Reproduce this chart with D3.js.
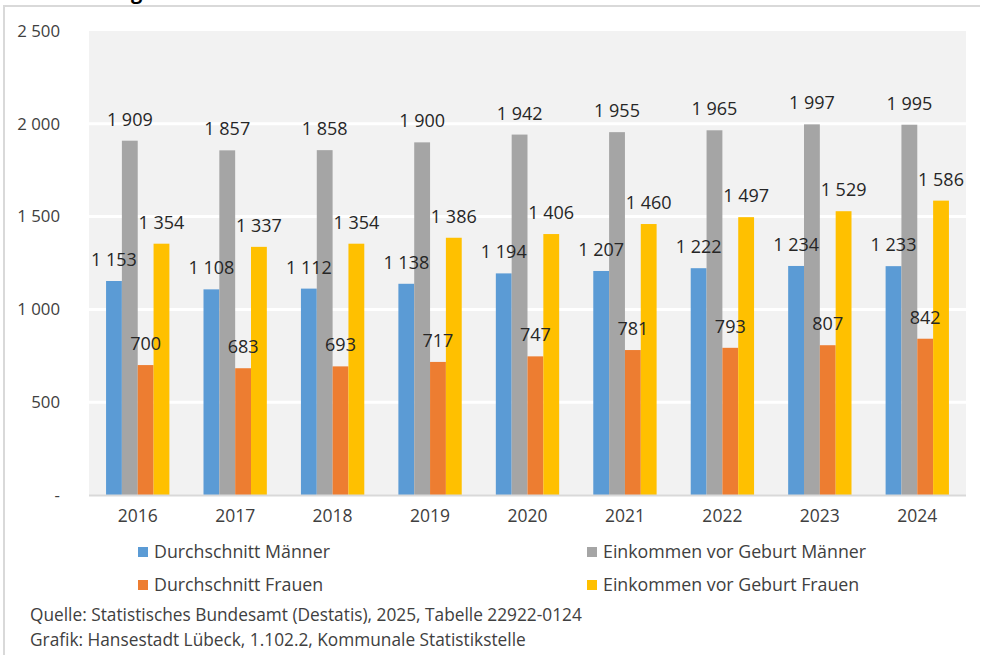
<!DOCTYPE html>
<html>
<head>
<meta charset="utf-8">
<script src="https://cdn.jsdelivr.net/npm/d3@7"></script>
<style>
  body { margin: 0; background: #fff; }
  svg { display: block; font-family: "Open Sans", "Noto Sans", sans-serif; }
</style>
</head>
<body>
<svg width="982" height="655"></svg>
<script>
// values (Euro)
const years = ["2016", "2017", "2018", "2019", "2020", "2021", "2022", "2023", "2024"];
const seriesNames = [
  "Durchschnitt Männer",
  "Einkommen vor Geburt Männer",
  "Durchschnitt Frauen",
  "Einkommen vor Geburt Frauen",
];
const avgMen = [1153, 1108, 1112, 1138, 1194, 1207, 1222, 1234, 1233];
const beforeBirthMen = [1909, 1857, 1858, 1900, 1942, 1955, 1965, 1997, 1995];
const avgWomen = [700, 683, 693, 717, 747, 781, 793, 807, 842];
const beforeBirthWomen = [1354, 1337, 1354, 1386, 1406, 1460, 1497, 1529, 1586];
const yTicks = [0, 500, 1000, 1500, 2000, 2500];
const colors = ["#5b9bd5", "#a5a5a5", "#ed7d31", "#ffc000"];

const seriesValues = [avgMen, beforeBirthMen, avgWomen, beforeBirthWomen];

let svg = d3.select("svg");

const locale = d3.formatLocale({ decimal: ",", thousands: "\u00a0", grouping: [3], currency: ["", " €"] });
const fmt = locale.format(",d");

let x0 = d3.scaleBand().domain(years).range([89, 966]).paddingInner(0.35).paddingOuter(0.175);
let x1 = d3.scaleBand().domain(d3.range(4)).range([0, x0.bandwidth()]);
let y = d3.scaleLinear().domain([0, 2500]).range([495, 31]);

// outer frame (only top and left edges are visible)
svg.append("line").attr("x1", 3).attr("x2", 980).attr("y1", 6).attr("y2", 6)
  .attr("stroke", "#d9d9d9").attr("stroke-width", 2);
svg.append("line").attr("x1", 4).attr("x2", 4).attr("y1", 6).attr("y2", 655)
  .attr("stroke", "#d9d9d9").attr("stroke-width", 2);

// title, cut off at the top like in the original
svg.append("text").attr("x", 71).attr("y", -1)
  .attr("font-size", 20).attr("font-weight", "bold").attr("fill", "#000")
  .text("Elterngeld");

// plot background
svg.append("rect").attr("x", 89).attr("y", 31).attr("width", 877).attr("height", 464)
  .attr("fill", "#f2f2f2");

// gridlines
svg.append("g").selectAll("line").data(yTicks.filter(d => d > 0 && d < 2500)).enter()
  .append("line")
  .attr("x1", 89).attr("x2", 966)
  .attr("y1", d => y(d)).attr("y2", d => y(d))
  .attr("stroke", "#fff").attr("stroke-width", 3);

// y axis labels
let yAxis = d3.axisLeft(y).tickValues(yTicks).tickSize(0).tickPadding(0)
  .tickFormat(d => d === 0 ? "-" : fmt(d));
let yg = svg.append("g").attr("transform", "translate(60,0)").call(yAxis);
yg.select(".domain").remove();
yg.selectAll("text").attr("font-size", 16.8).attr("fill", "#404040")
  .attr("font-family", "'Open Sans', sans-serif");

// bars
let groups = svg.append("g").selectAll("g").data(years).enter()
  .append("g")
  .attr("transform", d => "translate(" + x0(d) + ",0)");

groups.selectAll("rect")
  .data((d, i) => seriesValues.map((s, k) => ({ k: k, v: s[i] })))
  .enter().append("rect")
  .attr("x", d => x1(d.k))
  .attr("width", x1.bandwidth())
  .attr("y", d => y(d.v))
  .attr("height", d => y(0) - y(d.v))
  .attr("fill", d => colors[d.k]);

groups.selectAll("text")
  .data((d, i) => seriesValues.map((s, k) => ({ k: k, v: s[i] })))
  .enter().append("text")
  .attr("x", d => x1(d.k) + x1.bandwidth() / 2)
  .attr("y", d => y(d.v) - 15)
  .attr("text-anchor", "middle")
  .attr("font-size", 18)
  .attr("fill", "#262626")
  .text(d => fmt(d.v));

// baseline
svg.append("line").attr("x1", 89).attr("x2", 966).attr("y1", 495.5).attr("y2", 495.5)
  .attr("stroke", "#d9d9d9").attr("stroke-width", 2);

// x axis labels
let xAxis = d3.axisBottom(x0).tickSize(0).tickPadding(0);
let xg = svg.append("g").attr("transform", "translate(0,510)").call(xAxis);
xg.select(".domain").remove();
xg.selectAll("text").attr("font-size", 17.5).attr("fill", "#404040")
  .attr("font-family", "'Open Sans', sans-serif");

// legend
let legendPos = [[138, 552], [587, 552], [138, 585], [587, 585]];
let legend = svg.append("g").selectAll("g").data(seriesNames).enter()
  .append("g")
  .attr("transform", (d, i) => "translate(" + legendPos[i][0] + "," + legendPos[i][1] + ")");
legend.append("rect").attr("x", 0).attr("y", -5).attr("width", 10).attr("height", 10)
  .attr("fill", (d, i) => colors[i]);
legend.append("text").attr("x", 16).attr("y", 6)
  .attr("font-size", 17.8).attr("fill", "#404040").text(d => d);

// source notes
svg.append("text").attr("x", 30).attr("y", 621).attr("font-size", 17.3).attr("fill", "#404040")
  .text("Quelle: Statistisches Bundesamt (Destatis), 2025, Tabelle 22922-0124");
svg.append("text").attr("x", 30).attr("y", 646).attr("font-size", 17.3).attr("fill", "#404040")
  .text("Grafik: Hansestadt Lübeck, 1.102.2, Kommunale Statistikstelle");
</script>
</body>
</html>
